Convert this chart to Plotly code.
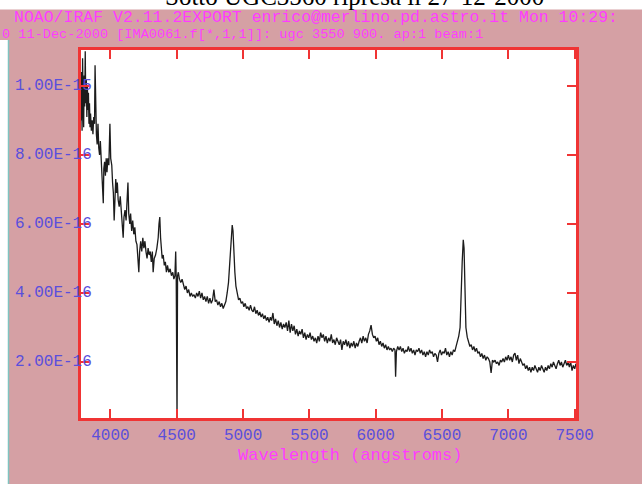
import plotly.graph_objects as go

# ---------------- data ----------------
WAVELENGTH = [
    3778, 3782, 3786, 3790, 3794, 3798, 3802, 3806, 3810, 3814, 3818, 3822, 3826, 3830, 3834, 3838,
    3842, 3846, 3850, 3856, 3862, 3868, 3874, 3880, 3884, 3888, 3894, 3900, 3906, 3912, 3918, 3924,
    3930, 3936, 3942, 3946, 3950, 3956, 3962, 3968, 3974, 3980, 3988, 3996, 4002, 4010, 4016, 4022,
    4028, 4034, 4040, 4046, 4052, 4058, 4066, 4074, 4082, 4090, 4096, 4102, 4110, 4118, 4126, 4132,
    4138, 4146, 4152, 4160, 4168, 4176, 4184, 4192, 4200, 4208, 4214, 4220, 4228, 4236, 4244, 4252,
    4260, 4268, 4276, 4284, 4292, 4300, 4308, 4316, 4322, 4330, 4340, 4350, 4360, 4366, 4372, 4378,
    4384, 4390, 4398, 4406, 4414, 4422, 4430, 4440, 4450, 4460, 4470, 4478, 4486, 4492, 4496, 4502,
    4506, 4512, 4520, 4530, 4540, 4550, 4560, 4570, 4580, 4590, 4600, 4610, 4620, 4630, 4640, 4650,
    4660, 4670, 4680, 4690, 4700, 4710, 4720, 4730, 4740, 4750, 4760, 4770, 4780, 4790, 4800, 4810,
    4820, 4830, 4840, 4850, 4860, 4870, 4880, 4890, 4900, 4910, 4918, 4924, 4930, 4938, 4946, 4956,
    4966, 4976, 4986, 4996, 5006, 5016, 5026, 5036, 5046, 5056, 5066, 5076, 5086, 5096, 5106, 5116,
    5126, 5136, 5146, 5156, 5166, 5176, 5186, 5196, 5206, 5215, 5225, 5235, 5245, 5255, 5265, 5275,
    5285, 5295, 5305, 5315, 5325, 5335, 5345, 5355, 5365, 5375, 5385, 5395, 5405, 5415, 5425, 5435,
    5445, 5455, 5465, 5475, 5485, 5495, 5505, 5515, 5525, 5535, 5545, 5555, 5565, 5575, 5585, 5595,
    5605, 5615, 5625, 5635, 5645, 5655, 5665, 5675, 5685, 5695, 5705, 5715, 5725, 5735, 5745, 5755,
    5765, 5775, 5785, 5795, 5805, 5815, 5825, 5835, 5845, 5855, 5865, 5875, 5885, 5895, 5905, 5915,
    5925, 5935, 5945, 5955, 5965, 5975, 5985, 5995, 6005, 6015, 6025, 6035, 6045, 6055, 6065, 6075,
    6085, 6095, 6105, 6115, 6125, 6135, 6145, 6150, 6156, 6166, 6176, 6186, 6196, 6206, 6216, 6226,
    6236, 6246, 6256, 6266, 6276, 6286, 6296, 6306, 6316, 6326, 6336, 6346, 6356, 6366, 6376, 6386,
    6396, 6406, 6416, 6426, 6436, 6446, 6456, 6466, 6476, 6486, 6496, 6506, 6516, 6526, 6536, 6546,
    6556, 6566, 6576, 6586, 6596, 6606, 6616, 6626, 6636, 6645, 6652, 6660, 6666, 6672, 6680, 6690,
    6700, 6710, 6720, 6730, 6740, 6750, 6760, 6770, 6780, 6790, 6800, 6810, 6820, 6830, 6840, 6850,
    6860, 6870, 6880, 6890, 6900, 6910, 6920, 6930, 6940, 6950, 6960, 6970, 6980, 6990, 7000, 7010,
    7020, 7030, 7040, 7050, 7060, 7070, 7080, 7090, 7100, 7110, 7120, 7130, 7140, 7150, 7160, 7170,
    7180, 7190, 7200, 7210, 7220, 7230, 7240, 7250, 7260, 7270, 7280, 7290, 7300, 7310, 7320, 7330,
    7340, 7350, 7360, 7370, 7380, 7390, 7400, 7410, 7420, 7430, 7440, 7450, 7460, 7470, 7480, 7490,
    7500, 7510,
]

# flux in units of 1e-16 (erg/cm2/s/A)
FLUX_E16 = [
    9.0, 10.4, 8.7, 10.8, 9.6, 8.8, 10.3, 9.4, 11.0, 9.5, 10.2, 9.1, 10.0, 9.3, 9.8, 8.9,
    9.5, 8.8, 9.2, 8.7, 9.0, 8.6, 9.1, 8.9, 10.6, 8.8, 8.6, 8.3, 8.9, 8.2, 8.0, 8.4,
    7.9, 7.7, 7.0, 6.6, 7.6, 7.8, 7.4, 7.9, 7.5, 7.9, 7.7, 8.9, 7.9, 7.7, 7.2, 6.9,
    6.1, 7.0, 7.3, 6.9, 7.2, 6.7, 6.5, 6.8, 6.3, 5.9, 5.6, 6.2, 6.4, 6.1, 6.8, 7.2,
    6.3, 6.0, 6.3, 5.8, 6.1, 5.7, 5.9, 5.5, 5.4, 5.0, 4.6, 5.2, 5.5, 5.2, 5.6, 5.3,
    5.5, 5.2, 5.0, 5.3, 5.1, 5.2, 4.9, 5.2, 4.6, 5.0, 5.1, 5.3, 5.6, 6.0, 6.2, 5.6,
    5.2, 5.0, 5.1, 4.8, 4.9, 4.6, 4.8, 4.6, 4.7, 4.5, 4.6, 4.4, 4.5, 5.2, 4.4, 0.3,
    4.5, 4.6, 4.4, 4.3, 4.4, 4.2, 4.1, 4.2, 4.0, 4.1, 3.9, 4.0, 3.9, 3.95, 3.85, 4.0,
    3.9, 4.05, 3.85, 4.0, 3.8, 3.9, 3.75, 3.9, 3.7, 3.85, 3.7, 3.8, 4.1, 3.75, 3.8, 3.65,
    3.75, 3.6, 3.7, 3.55, 3.65, 3.75, 4.0, 4.3, 4.9, 5.4, 5.97, 5.8, 5.0, 4.6, 4.2, 3.95,
    3.8, 3.85, 3.7, 3.75, 3.6, 3.7, 3.55, 3.6, 3.5, 3.65, 3.5, 3.45, 3.6, 3.4, 3.5, 3.35,
    3.45, 3.3, 3.4, 3.25, 3.35, 3.2, 3.3, 3.15, 3.3, 3.2, 3.42, 3.1, 3.25, 3.05, 3.2, 3.0,
    3.15, 2.95, 3.1, 3.0, 3.15, 2.9, 3.2, 2.85, 3.1, 2.9, 3.05, 2.8, 2.95, 2.75, 2.9, 2.8,
    2.95, 2.7, 2.85, 2.65, 2.8, 2.7, 2.85, 2.65, 2.75, 2.6, 2.7, 2.55, 2.75, 2.6, 2.85, 2.7,
    2.8, 2.6, 2.75, 2.55, 2.7, 2.6, 2.8, 2.55, 2.65, 2.5, 2.7, 2.6, 2.5, 2.65, 2.35, 2.6,
    2.5, 2.65, 2.45, 2.6, 2.4, 2.55, 2.45, 2.6, 2.4, 2.55, 2.45, 2.6, 2.7, 2.55, 2.75, 2.6,
    2.7, 2.55, 2.8, 2.9, 3.07, 2.8, 2.7, 2.75, 2.6, 2.7, 2.5, 2.6, 2.45, 2.55, 2.4, 2.5,
    2.35, 2.45, 2.35, 2.4, 2.3, 2.4, 2.35, 1.57, 2.3, 2.45, 2.35, 2.45, 2.3, 2.4, 2.25, 2.35,
    2.3, 2.45, 2.3, 2.4, 2.25, 2.35, 2.2, 2.35, 2.3, 2.4, 2.25, 2.35, 2.2, 2.3, 2.15, 2.3,
    2.2, 2.35, 2.25, 2.3, 2.15, 2.25, 2.2, 2.0, 2.25, 2.35, 2.2, 2.3, 2.25, 2.4, 2.2, 2.3,
    2.15, 2.3, 2.2, 2.35, 2.3, 2.45, 2.6, 2.75, 3.0, 4.3, 4.9, 5.54, 5.3, 4.3, 3.0, 2.72,
    2.55, 2.45, 2.5, 2.35, 2.45, 2.3, 2.4, 2.25, 2.3, 2.15, 2.25, 2.1, 2.2, 2.05, 2.15, 2.1,
    2.0, 1.68, 2.05, 2.0, 2.05, 1.95, 2.0, 1.9, 2.05, 2.0, 2.1, 2.0, 2.15, 2.05, 2.2, 2.05,
    2.15, 2.0, 2.2, 2.26, 2.05, 2.2, 1.95, 2.1, 2.0, 1.9, 1.95, 1.8, 1.9, 1.75, 1.85, 1.7,
    1.85, 1.75, 1.9, 1.8, 1.7, 1.85, 1.75, 1.9, 1.8, 1.7, 1.85, 1.75, 1.9, 1.8, 1.95, 1.85,
    2.0, 1.9, 1.8, 1.95, 2.05, 1.9, 2.0, 1.85, 1.95, 2.05, 1.9, 2.0, 1.85, 2.0, 1.75, 1.9,
    1.8, 1.95,
]
FLUX_UNIT = 1e-16

X_TICKS = [4000, 4500, 5000, 5500, 6000, 6500, 7000, 7500]
X_TICK_TEXT = ["4000", "4500", "5000", "5500", "6000", "6500", "7000", "7500"]
Y_TICKS_E16 = [2, 4, 6, 8, 10]
Y_TICK_TEXT = ["2.00E-16", "4.00E-16", "6.00E-16", "8.00E-16", "1.00E-15"]
X_RANGE = [3778, 7510]
Y_RANGE_E16 = [0.377, 11.04]

TITLE = "Sotto UGC3560 ripresa il 27-12-2000"
HEADER_1 = "NOAO/IRAF V2.11.2EXPORT enrico@merlino.pd.astro.it Mon 10:29:"
HEADER_2 = "0 11-Dec-2000 [IMA0061.f[*,1,1]]: ugc 3550 900. ap:1 beam:1"
X_TITLE = "Wavelength (angstroms)"

# ---------------- styling ----------------
W, H = 642, 484
L, R, T, B = 81, 66, 50, 66
PINK = "#d5a0a4"
RED = "#f03434"
TICK_BLUE = "#5a4fdc"
MAGENTA = "#ff3cff"
MONO = "Liberation Mono, DejaVu Sans Mono, monospace"


def px_x(p):
    return (p - L) / (W - L - R)


def px_y(p):
    return (H - B - p) / (H - T - B)


fig = go.Figure()
fig.add_trace(go.Scatter(
    x=WAVELENGTH,
    y=[f * FLUX_UNIT for f in FLUX_E16],
    mode="lines",
    line=dict(color="#1c1c1c", width=1.3),
    hoverinfo="skip",
    showlegend=False,
))

shapes = [
    # white strip above the IRAF panel
    dict(type="rect", xref="paper", yref="paper", x0=px_x(-2), x1=px_x(W + 2),
         y0=px_y(-2), y1=px_y(9.5), fillcolor="white", line=dict(width=0), layer="below"),
    # white strip on the left
    dict(type="rect", xref="paper", yref="paper", x0=px_x(-2), x1=px_x(8),
         y0=px_y(40), y1=px_y(H + 2), fillcolor="white", line=dict(width=0), layer="below"),
    # teal edge line
    dict(type="line", xref="paper", yref="paper", x0=px_x(8.5), x1=px_x(8.5),
         y0=px_y(40), y1=px_y(H + 2), line=dict(color="#7fc4c0", width=1.5), layer="below"),
]

annotations = [
    dict(text=TITLE, xref="paper", yref="paper", x=px_x(354), y=px_y(-3.5),
         xanchor="center", yanchor="middle", showarrow=False,
         font=dict(family="Liberation Serif, Times New Roman, serif", size=25, color="black")),
    dict(text=HEADER_1, xref="paper", yref="paper", x=px_x(13), y=px_y(17.5),
         xanchor="left", yanchor="middle", showarrow=False, borderpad=0,
         font=dict(family=MONO, size=16.5, color=MAGENTA)),
    dict(text=HEADER_2, xref="paper", yref="paper", x=px_x(1), y=px_y(34),
         xanchor="left", yanchor="middle", showarrow=False, borderpad=0,
         font=dict(family=MONO, size=13.6, color=MAGENTA)),
    dict(text=X_TITLE, xref="paper", yref="paper", x=px_x(350), y=px_y(456),
         xanchor="center", yanchor="middle", showarrow=False,
         font=dict(family=MONO, size=17, color=MAGENTA)),
]
for v, t in zip(Y_TICKS_E16, Y_TICK_TEXT):
    annotations.append(dict(text=t, xref="paper", yref="y", x=px_x(13), y=v * FLUX_UNIT,
                            xanchor="left", yanchor="middle", showarrow=False,
                            font=dict(family=MONO, size=16, color=TICK_BLUE)))

axis_common = dict(
    showline=True, linecolor=RED, linewidth=3, mirror="ticks",
    ticks="inside", ticklen=9, tickwidth=2, tickcolor=RED,
    showgrid=False, zeroline=False,
)

fig.update_layout(
    width=W, height=H, autosize=False,
    margin=dict(l=L, r=R, t=T, b=B, pad=0),
    paper_bgcolor=PINK, plot_bgcolor="white",
    showlegend=False,
    shapes=shapes,
    annotations=annotations,
    xaxis=dict(range=X_RANGE, tickvals=X_TICKS, ticktext=X_TICK_TEXT,
               tickfont=dict(family=MONO, size=16, color=TICK_BLUE), **axis_common),
    yaxis=dict(range=[v * FLUX_UNIT for v in Y_RANGE_E16],
               tickvals=[v * FLUX_UNIT for v in Y_TICKS_E16],
               showticklabels=False, **axis_common),
)

fig.write_html(
    "out.html",
    config={"displayModeBar": False},
    post_script="document.body.style.margin='0px';document.body.style.overflow='hidden';",
)
